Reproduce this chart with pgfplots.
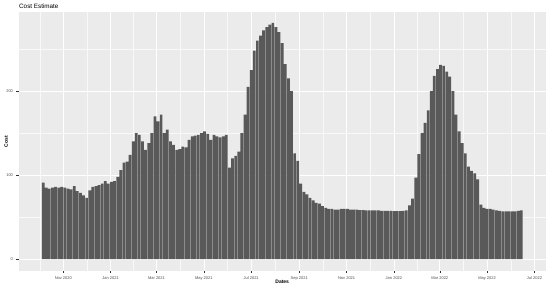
\documentclass[border=0pt]{standalone}
\usepackage{pgfplots}
\pgfplotsset{compat=1.18}
\usepackage{fontspec}
\setmainfont{Liberation Sans}
\definecolor{panel}{HTML}{EBEBEB}
\definecolor{barc}{HTML}{595959}
\definecolor{tickl}{HTML}{4D4D4D}
\definecolor{tickc}{HTML}{333333}
\begin{document}
\begin{tikzpicture}
\path[use as bounding box] (0,0) rectangle (550pt,288pt);
\begin{axis}[
  at={(18.7pt,17pt)}, anchor=south west,
  scale only axis, width=527pt, height=259pt,
  xmin=-57.5, xmax=621.5, ymin=-14, ymax=294,
  axis background/.style={fill=panel},
  axis line style={draw=none},
  xtick={0,61,120,181,242,304,365,426,485,546,607},
  xticklabels={Nov 2020,Jan 2021,Mar 2021,May 2021,Jul 2021,Sep 2021,Nov 2021,Jan 2022,Mar 2022,May 2022,Jul 2022},
  minor xtick={-30.5,30.5,90.5,150.5,211.5,273,334.5,395.5,455.5,515.5,576.5},
  ytick={0,100,200}, minor ytick={50,150,250},
  grid=both,
  major grid style={white, line width=0.6pt},
  minor grid style={white!70!panel, line width=0.3pt},
  tick style={tickc, line width=0.4pt},
  major tick length=2.2pt, minor tick length=0pt,
  tick align=outside, tick pos=left,
  ticklabel style={font=\fontsize{4}{5}\selectfont, text=tickl},
  /pgf/number format/assume math mode=true,
  xlabel={Dates}, ylabel={Cost},
  label style={font=\fontsize{5}{6}\selectfont\bfseries},
  xlabel style={at={(axis description cs:0.5,-0.0413)}, anchor=center},
  ylabel style={at={(axis description cs:-0.024,0.5)}, anchor=center},
  ybar, bar width=3.5,
  clip=false,
]
\addplot[fill=barc, draw=none] coordinates {
(-26,91) (-22,85) (-18,84) (-14,85) (-10,86) (-6,85) (-2,86) (2,85) (6,84) (10,83)
(14,87) (18,81) (22,79) (26,76) (30,73) (34,82) (38,86) (42,87) (46,88) (50,90)
(54,93) (58,90) (62,92) (66,93) (70,98) (74,106) (78,115) (82,116) (86,124) (90,140)
(94,150) (98,148) (102,140) (106,130) (110,138) (114,150) (118,170) (122,164) (126,172) (130,150)
(134,154) (138,140) (142,136) (146,130) (150,131) (154,134) (158,133) (162,142) (166,146) (170,147)
(174,148) (178,150) (182,152) (186,149) (190,142) (194,148) (198,146) (202,145) (206,146) (210,148)
(214,109) (218,120) (222,123) (226,128) (230,150) (234,172) (238,205) (242,225) (246,248) (250,260)
(254,266) (258,272) (262,276) (266,279) (270,281) (274,276) (278,270) (282,257) (286,232) (290,215)
(294,200) (298,126) (302,117) (306,90) (310,80) (314,77) (318,73) (322,70) (326,67) (330,66)
(334,63) (338,61) (342,60) (346,60) (350,59) (354,59) (358,60) (362,60) (366,60) (370,59)
(374,59) (378,59) (382,58.5) (386,58.5) (390,58) (394,58) (398,58) (402,58) (406,58) (410,57.5)
(414,57.5) (418,57.5) (422,57.5) (426,57.3) (430,57.3) (434,57.3) (438,57.5) (442,58) (446,64) (450,72)
(454,97) (458,125) (462,150) (466,162) (470,177) (474,200) (478,218) (482,226) (486,231) (490,230)
(494,223) (498,217) (502,200) (506,172) (510,152) (514,138) (518,126) (522,110) (526,105) (530,102)
(534,95) (538,65) (542,61) (546,60) (550,60) (554,59) (558,58) (562,57.5) (566,57) (570,57)
(574,57) (578,57) (582,57) (586,57.5) (590,58)
};
\end{axis}
\node[anchor=base west, inner sep=0pt, font=\fontsize{6.3}{7}\selectfont] at (19pt,279pt) {Cost Estimate};
\end{tikzpicture}
\end{document}
